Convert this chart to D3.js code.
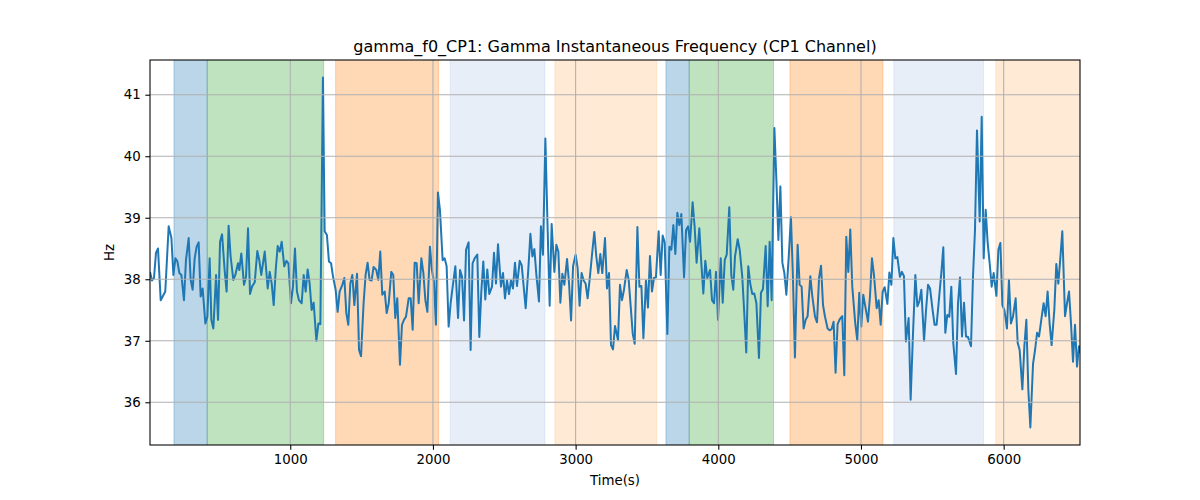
<!DOCTYPE html>
<html>
<head>
<meta charset="utf-8">
<script src="https://cdn.jsdelivr.net/npm/d3@7"></script>
<style>
  html, body { margin: 0; padding: 0; background: #fff; }
  svg { display: block; font-family: "DejaVu Sans", sans-serif; }
</style>
</head>
<body>
<svg id="chart" width="1200" height="500"></svg>
<script>
// ---- data ----
const titleText = "gamma_f0_CP1: Gamma Instantaneous Frequency (CP1 Channel)";
const xLabel = "Time(s)";
const yLabel = "Hz";
const xTicks = [1000, 2000, 3000, 4000, 5000, 6000];
const yTicks = [36, 37, 38, 39, 40, 41];

const times = [
  17,31,45,59,73,92,106,124,148,167,181,195,209,223,237,255,269,288,302,316,330,344,358,372,386,405,419,435,447,461,480,494,508,522,540,554,568,582,601,615,634,643,657,676,690,704,718,732,751,769,783,797,821,
  842,856,870,884,898,912,926,940,958,973,987,1005,1019,1033,1047,1061,1080,1094,1108,1122,1136,1150,1164,1183,1197,1211,1229,1241,1257,1271,1286,1300,1318,1332,1346,1365,1379,1393,1407,1421,1435,1449,1468,1482,1496,1514,1528,1542,1556,1570,1584,1603,1617,1631,1645,
  1662,1676,1690,1708,1722,1736,1750,1769,1783,1797,1811,1830,1844,1858,1872,1886,1900,1919,1933,1947,1961,1979,1993,2007,2021,2035,2049,2068,2082,2096,2110,2124,2143,2157,2176,2190,2204,2218,2232,2250,2264,2278,2292,2311,2325,2339,2353,2367,2381,2395,2414,2428,2442,2456,
  2477,2491,2505,2519,2533,2547,2561,2575,2589,2608,2622,2636,2650,2669,2683,2697,2711,2725,2743,2757,2771,2788,2804,2818,2832,2851,2865,2879,2893,2907,2921,2940,2954,2968,2982,3000,3014,3028,3042,3056,3070,3084,3098,3117,3131,3145,3159,3173,3187,3206,3220,3234,3248,3262,3276,
  3297,3311,3325,3339,3358,3372,3386,3400,3414,3433,3447,3461,3475,3493,3507,3521,3535,3549,3563,3582,3596,3610,3624,3643,3657,3671,3685,3699,3713,3727,3741,3760,3774,3788,3802,3820,3834,3848,3867,3881,3895,3909,3923,3942,3956,3970,3984,3998,4017,4031,4045,4059,4077,4091,4105,
  4117,4136,4150,4168,4182,4196,4210,4224,4238,4252,4267,4285,4299,4313,4332,4346,4360,4374,4393,4407,4421,4435,4449,4463,4477,4495,4509,4523,4537,4556,4570,4584,4598,4612,4626,4645,4659,4678,4692,4706,4720,4734,4748,4766,4780,4794,4808,4822,4836,4851,4869,4883,4897,4911,4925,4939,
  4960,4974,4988,5002,5016,5030,5049,5063,5077,5091,5110,5124,5138,5152,5166,5185,5199,5213,5227,5241,5255,5273,5287,5301,5315,5334,5348,5362,5381,5395,5409,5423,5442,5456,5470,5484,5502,5516,5530,5544,5563,5577,5591,5605,5619,5633,5647,5666,5680,5694,5708,5722,5736,5750,
  5771,5785,5799,5813,5832,5846,5860,5874,5888,5902,5916,5930,5949,5963,5977,5991,6005,6023,6037,6051,6065,6084,6098,6112,6131,6145,6159,6173,6187,6206,6220,6234,6248,6262,6280,6294,6308,6322,6336,6355,6369,6383,6397,6411,6430,6444,6458,6472,6486,6500,6514,6528,6535
];
const freqs = [
  38.12,37.98,38.02,38.43,38.50,37.66,37.72,37.80,38.86,38.67,38.07,38.34,38.29,38.10,38.07,37.66,38.31,38.67,37.99,37.83,38.34,38.53,38.60,37.72,37.85,37.28,37.39,38.34,37.34,37.20,38.07,37.34,38.61,38.73,38.15,37.80,38.87,38.37,37.99,38.07,38.26,38.15,38.42,37.91,38.04,38.83,37.76,37.88,37.95,38.46,38.31,38.07,38.45,
  37.85,38.12,37.93,37.58,38.15,38.54,38.45,38.61,38.21,38.30,38.26,37.61,37.88,38.50,37.80,37.66,37.61,38.07,37.80,38.16,37.93,37.50,37.62,37.00,37.28,37.27,41.28,38.78,38.72,38.29,38.26,38.04,37.83,37.47,37.80,37.91,38.02,37.45,37.26,37.93,38.07,37.58,38.09,36.85,36.75,37.61,38.07,38.27,37.99,37.98,38.20,38.15,37.99,38.45,37.75,
  37.80,37.45,37.61,38.12,38.07,37.37,37.69,36.61,37.26,37.34,37.39,37.69,37.69,37.18,38.27,38.26,37.61,38.34,38.10,37.66,37.47,38.53,38.15,37.96,37.26,39.41,39.13,38.31,38.34,38.21,37.23,37.61,37.96,38.21,37.37,38.15,38.04,37.33,38.48,38.60,36.85,38.26,38.34,38.40,37.06,37.80,38.29,37.67,38.16,37.76,37.88,38.43,37.93,38.57,
  37.88,38.10,37.69,37.98,37.76,37.98,37.85,38.27,37.89,38.30,38.23,37.88,37.53,38.18,38.74,38.37,38.49,38.07,37.64,38.86,38.40,40.29,38.80,37.57,38.90,38.12,38.56,38.45,37.62,38.09,37.91,38.33,37.93,37.33,38.21,38.40,38.18,37.57,38.10,37.98,37.93,37.69,37.99,38.45,38.77,38.37,38.10,38.41,38.10,38.67,37.85,38.10,36.93,36.86,37.24,
  37.01,37.91,37.66,37.83,38.15,37.99,37.56,37.12,36.95,38.85,37.88,37.89,37.04,37.98,37.54,38.38,37.80,38.02,38.03,38.78,38.07,38.71,38.60,37.11,38.53,38.48,38.88,38.41,39.08,38.88,39.06,38.03,38.80,38.86,38.61,39.25,38.86,38.27,38.83,38.26,37.77,38.30,38.02,38.15,37.66,37.61,38.12,37.34,38.34,37.62,38.31,38.40,39.17,38.07,37.83,
  38.37,38.65,38.48,38.04,37.45,36.81,38.21,37.93,37.76,37.77,37.61,36.72,37.78,37.84,38.54,37.56,38.61,37.66,40.46,39.62,38.64,39.51,38.27,38.10,37.75,38.42,39.01,38.04,36.73,38.56,37.91,37.88,37.20,37.34,37.40,38.05,37.72,37.39,37.30,38.02,38.22,37.58,37.39,37.20,37.17,37.19,37.31,36.48,37.27,37.35,37.40,36.44,38.69,38.12,38.81,37.88,
  37.28,37.01,37.78,37.23,37.75,37.56,37.31,37.72,38.34,38.07,37.53,37.66,37.26,37.80,37.87,37.60,38.11,37.91,38.67,38.34,38.36,38.04,38.12,38.05,36.99,37.37,36.04,36.96,38.07,37.56,37.64,37.83,37.00,37.50,37.91,37.85,37.50,37.26,37.26,37.61,38.10,38.52,37.13,37.42,37.39,37.88,36.96,36.46,37.61,38.03,37.07,37.62,37.07,37.06,
  36.91,38.04,38.80,40.42,38.94,40.64,38.34,39.13,38.59,38.26,37.88,38.10,37.73,38.48,38.59,37.58,37.50,37.20,37.99,37.28,37.39,37.69,36.97,36.85,36.21,36.91,37.34,36.20,35.59,36.63,36.85,37.13,37.07,37.31,37.61,37.40,37.80,37.28,36.93,37.50,38.25,37.93,38.34,38.78,37.40,37.61,37.80,37.28,36.66,37.26,36.58,36.91,36.80
];

// shaded intervals (start, end, kind)
const spanStarts = [185, 418, 1318, 2121, 2855, 3633, 3796, 4502, 5230, 5945];
const spanEnds   = [418, 1234, 2040, 2785, 3568, 3796, 4387, 5154, 5859, 6600];
const spanKinds  = ["A", "B", "C", "D", "E", "A", "B", "C", "D", "E"];

// ---- styles ----
const kindColor = { A: "#1f77b4", B: "#2ca02c", C: "#ff7f0e", D: "#aec7e8", E: "#ffbb78" };
const W = 1200, H = 500;
const m = { left: 150, right: 1080, top: 60, bottom: 445 };

const svg = d3.select("#chart");
svg.append("rect").attr("width", W).attr("height", H).attr("fill", "#fff");

const data = times.map((t, i) => ({ t, v: freqs[i] }));
const xExt = d3.extent(times);
const yMin = d3.min(freqs), yMax = d3.max(freqs), pad = (yMax - yMin) * 0.05;

const x = d3.scaleLinear().domain(xExt).range([m.left, m.right]);
const y = d3.scaleLinear().domain([yMin - pad, yMax + pad]).range([m.bottom, m.top]);

svg.append("defs").append("clipPath").attr("id", "clip")
  .append("rect").attr("x", m.left).attr("y", m.top)
  .attr("width", m.right - m.left).attr("height", m.bottom - m.top);

const plot = svg.append("g").attr("clip-path", "url(#clip)");

// spans
const spans = spanStarts.map((s, i) => ({ s, e: spanEnds[i], k: spanKinds[i] }));
plot.selectAll("rect.span").data(spans).enter().append("rect")
  .attr("class", "span")
  .attr("x", d => x(d.s))
  .attr("y", m.top - 2)
  .attr("width", d => x(d.e) - x(d.s))
  .attr("height", m.bottom - m.top + 4)
  .attr("fill", d => kindColor[d.k])
  .attr("fill-opacity", 0.3)
  .attr("stroke", d => kindColor[d.k])
  .attr("stroke-opacity", 0.3)
  .attr("stroke-width", 1);

// grid
const gridG = svg.append("g");
gridG.selectAll("line.vx").data(xTicks).enter().append("line")
  .attr("x1", d => x(d)).attr("x2", d => x(d))
  .attr("y1", m.top).attr("y2", m.bottom)
  .attr("stroke", "#b0b0b0").attr("stroke-width", 1.07);
gridG.selectAll("line.hy").data(yTicks).enter().append("line")
  .attr("y1", d => y(d)).attr("y2", d => y(d))
  .attr("x1", m.left).attr("x2", m.right)
  .attr("stroke", "#b0b0b0").attr("stroke-width", 1.07);

// line
const line = d3.line().x(d => x(d.t)).y(d => y(d.v));
plot.append("path").datum(data)
  .attr("d", line)
  .attr("fill", "none")
  .attr("stroke", "#1f77b4")
  .attr("stroke-width", 2)
  .attr("stroke-linejoin", "round")
  .attr("stroke-linecap", "butt");

// axes
const tickLen = 4.67, tickPad = 4.67;
const xAxis = d3.axisBottom(x).tickValues(xTicks).tickSize(tickLen).tickPadding(tickPad).tickFormat(d3.format("d"));
const yAxis = d3.axisLeft(y).tickValues(yTicks).tickSize(tickLen).tickPadding(tickPad).tickFormat(d3.format("d"));

const gx = svg.append("g").attr("transform", `translate(0,${m.bottom})`).call(xAxis);
const gy = svg.append("g").attr("transform", `translate(${m.left},0)`).call(yAxis);
[gx, gy].forEach(g => {
  g.select(".domain").remove();
  g.selectAll(".tick line").attr("stroke", "#000").attr("stroke-width", 1.07);
  g.selectAll(".tick text").attr("fill", "#000").style("font-size", "13.33px").style("font-family", "DejaVu Sans");
});

// frame
svg.append("rect")
  .attr("x", m.left).attr("y", m.top)
  .attr("width", m.right - m.left).attr("height", m.bottom - m.top)
  .attr("fill", "none").attr("stroke", "#000").attr("stroke-width", 1.07);

// labels
svg.append("text").attr("x", (m.left + m.right) / 2).attr("y", 52)
  .attr("text-anchor", "middle").style("font-size", "16px").attr("fill", "#000")
  .text(titleText);
svg.append("text").attr("x", (m.left + m.right) / 2).attr("y", 485)
  .attr("text-anchor", "middle").style("font-size", "13.33px").attr("fill", "#000")
  .text(xLabel);
svg.append("text")
  .attr("transform", `translate(114,${(m.top + m.bottom) / 2}) rotate(-90)`)
  .attr("text-anchor", "middle").style("font-size", "13.33px").attr("fill", "#000")
  .text(yLabel);
</script>
</body>
</html>
